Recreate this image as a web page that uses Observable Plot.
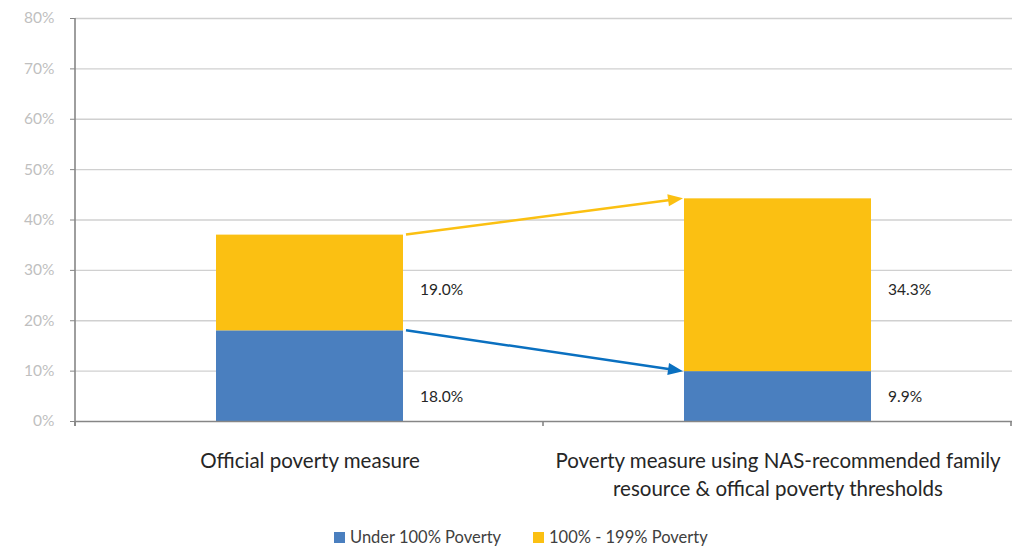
<!DOCTYPE html>
<html>
<head>
<meta charset="utf-8">
<script src="https://cdn.jsdelivr.net/npm/d3@7"></script>
<script src="https://cdn.jsdelivr.net/npm/@observablehq/plot@0.6"></script>
<style>
  body { margin: 0; background: #fff; font-family: Lato, "Open Sans", sans-serif; }
  #chart svg { display: block; }
  .legend { position: relative; height: 24px; font-size: 16.5px; color: #404040; }
  .legend .item { position: absolute; top: 0; white-space: nowrap; line-height: 22px; }
  .legend span.sw { display: inline-block; width: 11px; height: 11px; margin-right: 5px; vertical-align: 0px; }
</style>
</head>
<body>
<div id="chart"></div>
<div class="legend" id="legend"></div>
<script>
const categories = ["Official poverty measure", "Poverty measure using NAS-recommended family resource & offical poverty thresholds"];
const categoryLabels = ["Official poverty measure", "Poverty measure using NAS-recommended family\nresource & offical poverty thresholds"];
const series = ["Under 100% Poverty", "100% - 199% Poverty"];
const under100 = [18.0, 9.9];
const between100and199 = [19.0, 34.3];
const yTicks = [0, 10, 20, 30, 40, 50, 60, 70, 80];
const seriesColors = ["#4A7FBF", "#FBC012"];
const arrowColors = ["#0A70C0", "#FBC012"];

const seriesValues = [under100, between100and199];
const rows = [];
series.forEach((s, si) => categories.forEach((c, ci) => rows.push({category: c, series: s, value: seriesValues[si][ci]})));

const chart = Plot.plot({
  width: 1021,
  height: 526,
  marginLeft: 75,
  marginRight: 9,
  marginTop: 18,
  marginBottom: 105,
  style: {fontFamily: "Lato, 'Open Sans', sans-serif", background: "#fff"},
  x: {domain: categories, paddingInner: 0.6, paddingOuter: 0.3, label: null},
  y: {domain: [0, 80], label: null},
  color: {domain: series, range: seriesColors},
  marks: [
    Plot.gridY(yTicks.filter(t => t > 0), {stroke: "#D0D0D0", strokeOpacity: 1, strokeWidth: 1.3}),
    Plot.barY(rows, Plot.stackY({x: "category", y: "value", fill: "series", order: series})),
    Plot.ruleY([0], {stroke: "#868686", strokeWidth: 1.6}),
    Plot.axisY({ticks: yTicks, tickFormat: d => d + "%", tickSize: 5, tickPadding: 16, stroke: "#868686", color: "#BFBFBF", fontSize: 15.5}),
    Plot.axisX({tickSize: 0, tickPadding: 26, tickFormat: d => categoryLabels[categories.indexOf(d)], fontSize: 20.5, lineHeight: 1.38, color: "#262626"}),
    Plot.text(rows, {
      x: "category",
      y: d => d.series === series[0] ? 4.9 : 26,
      text: d => d.value.toFixed(1) + "%",
      textAnchor: "start",
      dx: 110,
      fontSize: 15.5,
      fill: "#262626"
    })
  ]
});

// axis lines, category boundary ticks and arrows through the plot's own scales
const xs = chart.scale("x");
const ys = chart.scale("y");
const svg = d3.select(chart);
const x0 = xs.range[0];
const yBottom = ys.apply(0), yTop = ys.apply(80);
svg.append("line").attr("x1", x0).attr("x2", x0).attr("y1", yTop).attr("y2", yBottom + 5)
  .attr("stroke", "#868686").attr("stroke-width", 1.6);
for (let i = 0; i <= categories.length; i++) {
  const bx = x0 + i * xs.step;
  svg.append("line").attr("x1", bx).attr("x2", bx).attr("y1", yBottom).attr("y2", yBottom + 5)
    .attr("stroke", "#868686").attr("stroke-width", 1.6);
}
seriesValues.forEach((vals, si) => {
  const top = ci => seriesValues.slice(0, si + 1).reduce((a, v) => a + v[ci], 0);
  const ax = xs.apply(categories[0]) + xs.bandwidth + 3;
  const ay = ys.apply(top(0));
  const bx = xs.apply(categories[1]) - 1;
  const by = ys.apply(top(1));
  const ang = Math.atan2(by - ay, bx - ax);
  const hl = 15, hw = 6;
  const lx = bx - hl * Math.cos(ang), ly = by - hl * Math.sin(ang);
  svg.append("line").attr("x1", ax).attr("y1", ay).attr("x2", lx + 2 * Math.cos(ang)).attr("y2", ly + 2 * Math.sin(ang))
    .attr("stroke", arrowColors[si]).attr("stroke-width", 2.5);
  const pts = [
    [bx, by],
    [lx + hw * Math.sin(ang), ly - hw * Math.cos(ang)],
    [lx - hw * Math.sin(ang), ly + hw * Math.cos(ang)]
  ];
  svg.append("polygon").attr("points", pts.map(p => p.join(",")).join(" ")).attr("fill", arrowColors[si]);
});

document.getElementById("chart").appendChild(chart);

const legend = document.getElementById("legend");
const legendLeft = [334, 533];
series.forEach((s, i) => {
  const item = document.createElement("div");
  item.className = "item";
  item.style.left = legendLeft[i] + "px";
  item.innerHTML = `<span class="sw" style="background:${seriesColors[i]}"></span>${s}`;
  legend.appendChild(item);
});
</script>
</body>
</html>
